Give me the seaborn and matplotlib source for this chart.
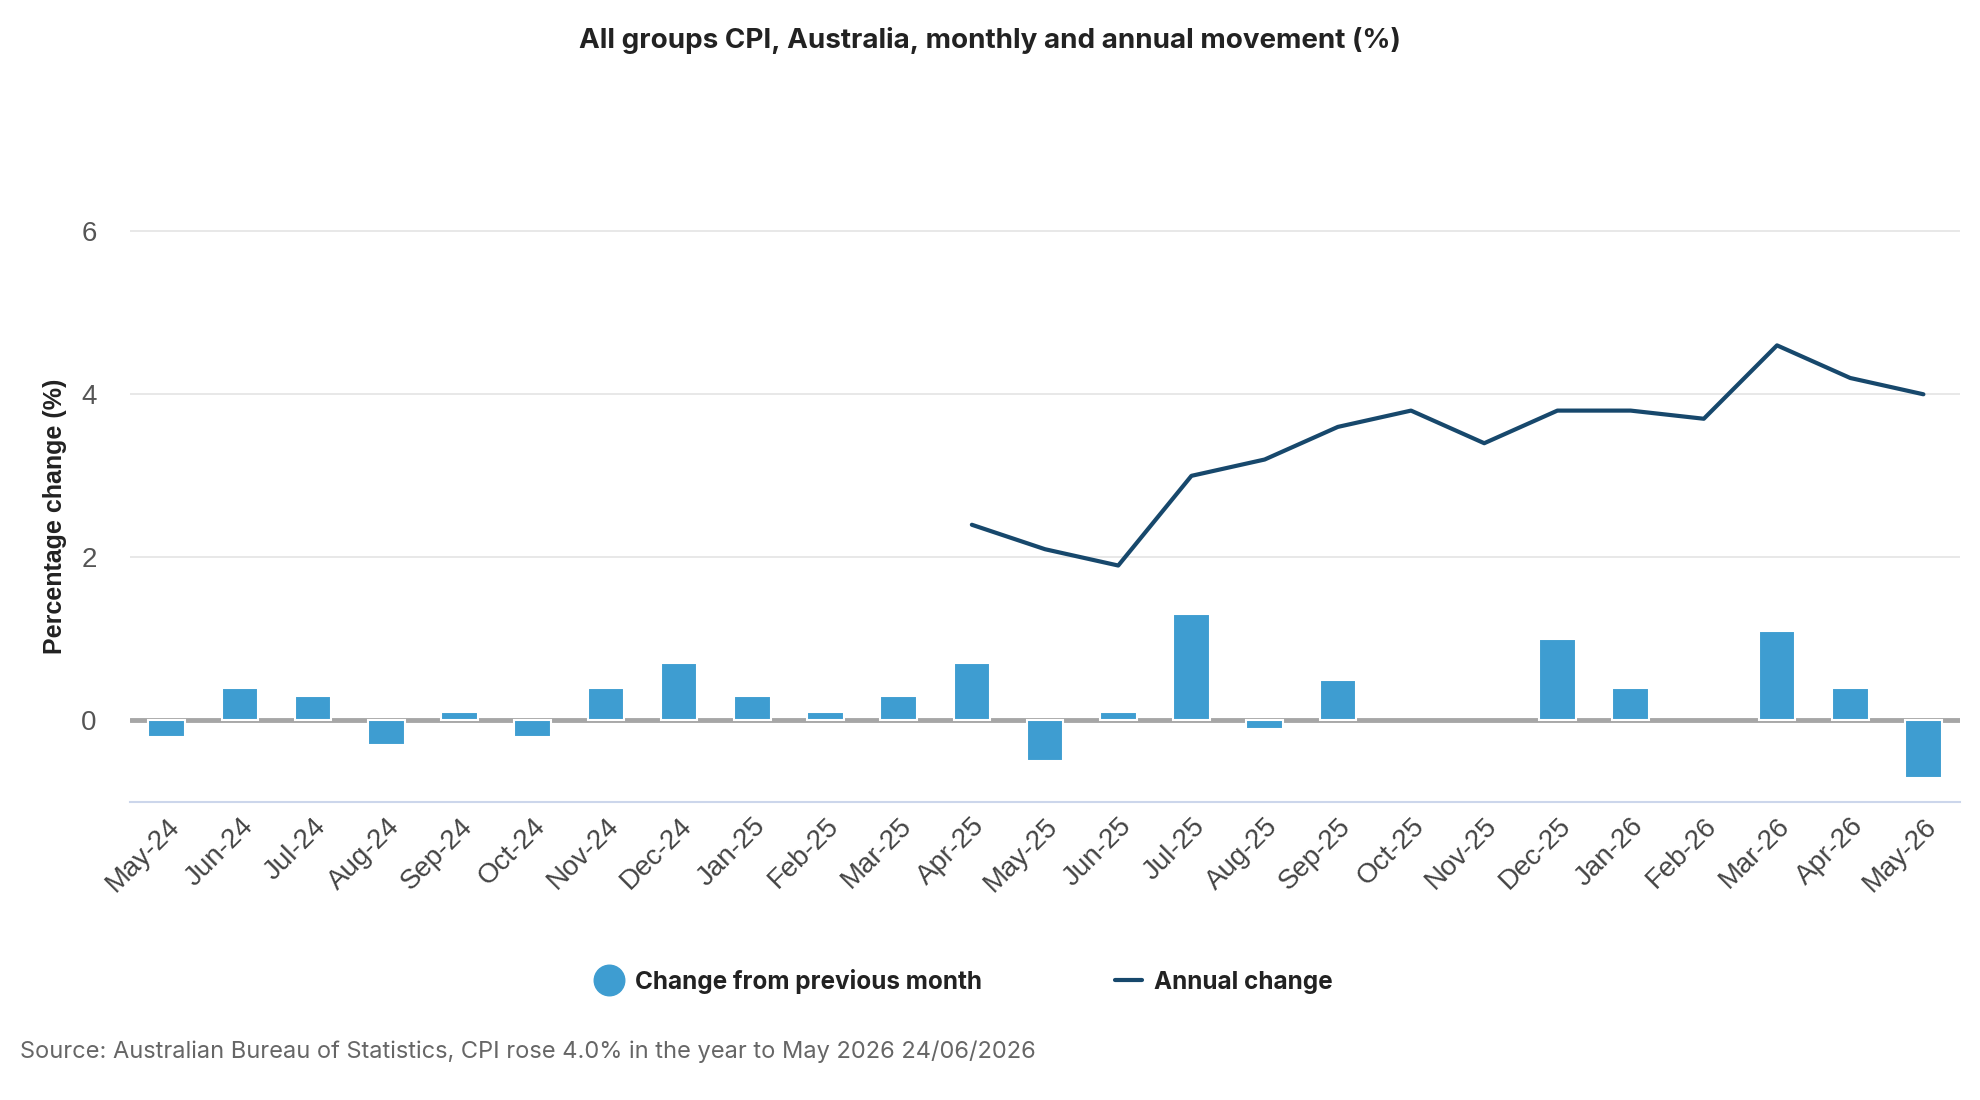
import numpy as np
import pandas as pd
import matplotlib
matplotlib.use("Agg")
import matplotlib.pyplot as plt
import seaborn as sns
from matplotlib.lines import Line2D

# ---------- DATA ----------
months = ["May-24", "Jun-24", "Jul-24", "Aug-24", "Sep-24", "Oct-24", "Nov-24",
          "Dec-24", "Jan-25", "Feb-25", "Mar-25", "Apr-25", "May-25", "Jun-25",
          "Jul-25", "Aug-25", "Sep-25", "Oct-25", "Nov-25", "Dec-25", "Jan-26",
          "Feb-26", "Mar-26", "Apr-26", "May-26"]
monthly_change = [-0.2, 0.4, 0.3, -0.3, 0.1, -0.2, 0.4, 0.7, 0.3, 0.1, 0.3, 0.7,
                  -0.5, 0.1, 1.3, -0.1, 0.5, 0.0, 0.0, 1.0, 0.4, 0.0, 1.1, 0.4, -0.7]
annual_change = [np.nan] * 11 + [2.4, 2.1, 1.9, 3.0, 3.2, 3.6, 3.8, 3.4, 3.8,
                                 3.8, 3.7, 4.6, 4.2, 4.0]
y_ticks = [0, 2, 4, 6]

BAR_COLOR = "#3e9dd1"
LINE_COLOR = "#17486c"

df = pd.DataFrame({"month": months, "pos": np.arange(len(months)),
                   "monthly": monthly_change, "annual": annual_change})

# ---------- STYLE ----------
sns.set_style("white")
plt.rcParams["font.family"] = ["Liberation Sans", "DejaVu Sans"]

fig = plt.figure(figsize=(19.8, 11), dpi=100)
ax = fig.add_axes([0.0657, 0.2709, 0.9242, 0.6227])

for yv in y_ticks[1:]:
    ax.axhline(yv, color="#e6e6e6", lw=1.3, zorder=0)
ax.axhline(0, color="#a6a6a6", lw=3.5, zorder=1)

sns.barplot(data=df, x="pos", y="monthly", color=BAR_COLOR, width=0.5,
            edgecolor="white", linewidth=1.5, saturation=1, ax=ax, zorder=2,
            native_scale=True)
# zero-height bars: let the zero line run through
for p in ax.patches:
    if p.get_height() == 0:
        p.set_visible(False)

sns.lineplot(data=df, x="pos", y="annual", color=LINE_COLOR, lw=3, ax=ax,
             zorder=3)

ax.set_xlim(-0.5, len(months) - 0.5)
ax.set_ylim(-1, 7.4)
ax.set_yticks(y_ticks)
ax.set_yticklabels([str(v) for v in y_ticks], fontsize=20, color="#555555")
ax.set_xticks(df["pos"])
ax.set_xticklabels(months, rotation=45, ha="right", rotation_mode="anchor",
                   fontsize=20, color="#444444")
ax.tick_params(axis="y", length=0, pad=24)
ax.tick_params(axis="x", length=0, pad=8)
ax.set_xlabel("")
ax.set_ylabel("Percentage change (%)", fontsize=18, fontweight="bold",
              color="#222222", labelpad=10)
ax.yaxis.label.set_y(0.417)

for side in ["top", "right", "left"]:
    ax.spines[side].set_visible(False)
ax.spines["bottom"].set_color("#ccd6eb")
ax.spines["bottom"].set_linewidth(1.5)

fig.text(0.5, 0.963, "All groups CPI, Australia, monthly and annual movement (%)",
         ha="center", va="center", fontsize=20, fontweight="bold", color="#222222",
         family=["Inter", "DejaVu Sans"])

handles = [
    Line2D([], [], marker="o", color="none", markerfacecolor=BAR_COLOR,
           markeredgecolor=BAR_COLOR, markersize=22),
    Line2D([], [], color=LINE_COLOR, lw=3),
]
leg = fig.legend(handles, ["Change from previous month", "Annual change"],
                 loc="center", bbox_to_anchor=(0.487, 0.108), ncol=2, frameon=False,
                 handlelength=1.1, handletextpad=0.5, columnspacing=5.5,
                 prop={"size": 17.5, "weight": "bold", "family": ["Inter", "DejaVu Sans"]})
for t in leg.get_texts():
    t.set_color("#222222")

fig.text(0.0101, 0.044,
         "Source: Australian Bureau of Statistics, CPI rose 4.0% in the year to May 2026 24/06/2026",
         ha="left", va="center", fontsize=17, color="#666666",
         family=["Inter", "DejaVu Sans"])

fig.savefig("out.png", dpi=100)
